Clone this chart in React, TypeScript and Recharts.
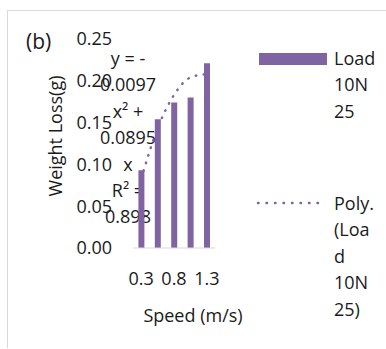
import React from 'react';
import {
  ComposedChart,
  Bar,
  Line,
  XAxis,
  YAxis,
  Customized,
} from 'recharts';

// speed categories (only every second one gets a label in the picture)
const speeds = ['0.3', '0.55', '0.8', '1.05', '1.3'];
// measured weight loss for Load 10N 25
const weightLoss = [0.093, 0.154, 0.174, 0.18, 0.221];
// polynomial trendline
const trend = [0.083, 0.143, 0.183, 0.204, 0.208];
const yTicks = [0, 0.05, 0.1, 0.15, 0.2, 0.25];

const equationLines = ['y = -', '0.0097', 'x² +', '0.0895', 'x', 'R² =', '0.898'];
const barLegendLines = ['Load', '10N', '25'];
const trendLegendLines = ['Poly.', '(Loa', 'd', '10N', '25)'];

const PURPLE = '#8064A2';
const TEXT = '#1a1a1a';
const FONT = "'Open Sans', sans-serif";
const FS = 18;

const data = speeds.map((s, i) => ({ speed: s, loss: weightLoss[i], trend: trend[i] }));

function Annotations() {
  return (
    <g fill={TEXT} fontFamily={FONT}>
      <text x={26} y={41} fontSize={21} dominantBaseline="central">
        (b)
      </text>
      {equationLines.map((line, i) => (
        <text
          key={i}
          x={128}
          y={58 + i * 26.4}
          fontSize={FS}
          textAnchor="middle"
          dominantBaseline="central"
        >
          {line}
        </text>
      ))}
    </g>
  );
}

function LegendBox() {
  const line = { fontSize: FS, lineHeight: '26.4px', color: TEXT, fontFamily: FONT };
  return (
    <div style={{ position: 'absolute', left: 255, top: 40, width: 130, height: 300 }}>
      <div style={{ position: 'absolute', left: 4, top: 13, width: 68, height: 12, background: PURPLE }} />
      <div style={{ position: 'absolute', left: 79, top: 5 }}>
        {barLegendLines.map((t, i) => (
          <div key={i} style={line}>{t}</div>
        ))}
      </div>
      <svg style={{ position: 'absolute', left: 0, top: 158 }} width={75} height={10}>
        <line
          x1={3}
          y1={5}
          x2={71}
          y2={5}
          stroke={PURPLE}
          strokeWidth={2.5}
          strokeDasharray="0.5 8"
          strokeLinecap="round"
        />
      </svg>
      <div style={{ position: 'absolute', left: 79, top: 150 }}>
        {trendLegendLines.map((t, i) => (
          <div key={i} style={line}>{t}</div>
        ))}
      </div>
    </div>
  );
}

export default function App() {
  return (
    <div style={{ position: 'absolute', left: 0, top: 0, width: 386, height: 348, fontFamily: FONT }}>
      <div
        style={{
          position: 'absolute',
          left: 7,
          top: 10,
          width: 379,
          height: 338,
          borderLeft: '1px solid #d9d9d9',
          borderTop: '1px solid #d9d9d9',
          boxSizing: 'border-box',
        }}
      />
      <div style={{ position: 'absolute', left: 0, top: 0 }}>
        <ComposedChart
          width={386}
          height={348}
          data={data}
          margin={{ top: 39, right: 171, bottom: 70, left: 73 }}
          barCategoryGap="33%"
        >
          <XAxis
            dataKey="speed"
            height={30}
            interval={1}
            tickLine={false}
            tickSize={0}
            tickMargin={24}
            axisLine={{ stroke: '#d9d9d9' }}
            tick={{ fontSize: FS, fill: TEXT }}
            label={() => (
              <text x={193} y={315} fontSize={FS} fill={TEXT} textAnchor="middle" dominantBaseline="central">
                Speed (m/s)
              </text>
            )}
          />
          <YAxis
            width={60}
            domain={[0, 0.25]}
            ticks={yTicks}
            tickFormatter={(v: number) => v.toFixed(2)}
            axisLine={false}
            tickLine={false}
            tickSize={0}
            tickMargin={21}
            tick={{ fontSize: FS, fill: TEXT }}
            label={() => (
              <text
                x={55}
                y={136}
                fontSize={FS}
                fill={TEXT}
                textAnchor="middle"
                dominantBaseline="central"
                transform="rotate(-90 55 136)"
              >
                Weight Loss(g)
              </text>
            )}
          />
          <Bar dataKey="loss" fill={PURPLE} isAnimationActive={false} />
          <Line
            dataKey="trend"
            type="monotone"
            stroke={PURPLE}
            strokeWidth={2.5}
            strokeDasharray="0.5 7.5"
            strokeLinecap="round"
            dot={false}
            activeDot={false}
            isAnimationActive={false}
          />
          <Customized component={Annotations} />
        </ComposedChart>
      </div>
      <LegendBox />
    </div>
  );
}
